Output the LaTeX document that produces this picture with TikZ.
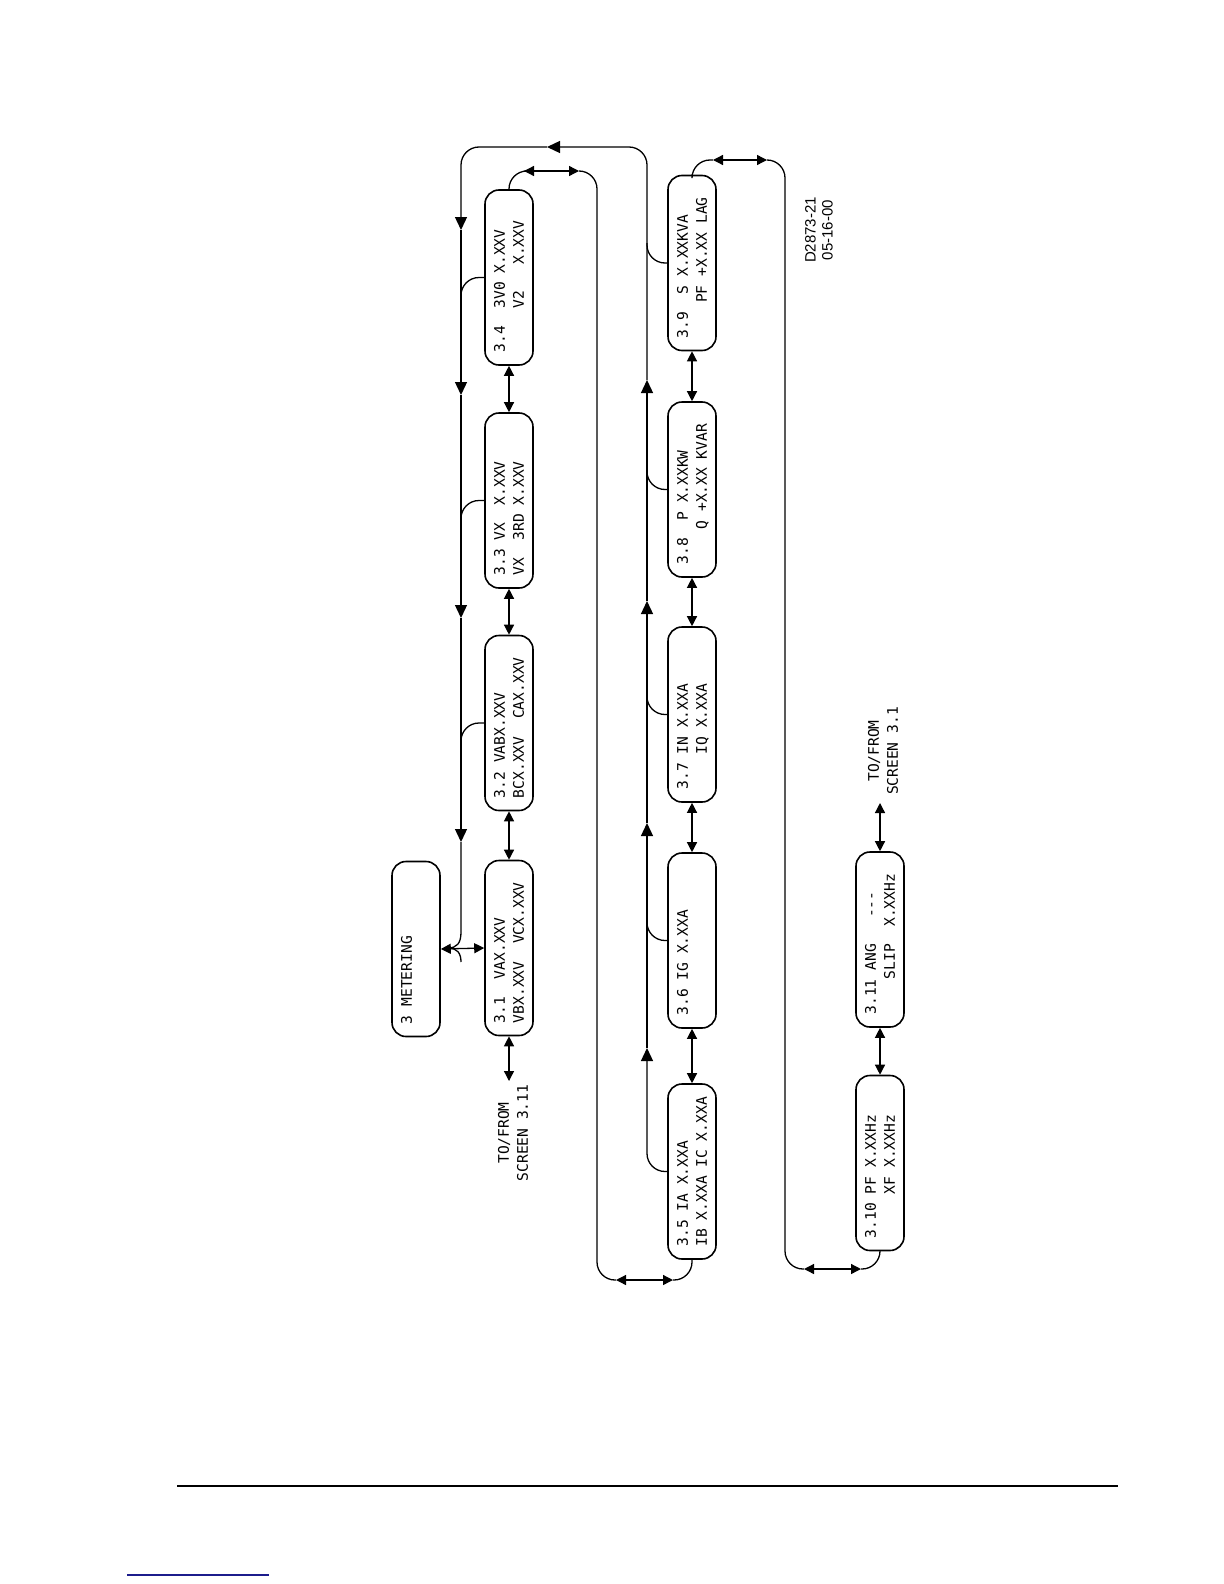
\documentclass[tikz,border=0pt]{standalone}
\usepackage{fontspec}
\newfontfamily\lcdfont{DejaVu Sans Mono}
\newfontfamily\dwgfont{Liberation Sans}
\usetikzlibrary{arrows.meta}
\definecolor{linkblue}{RGB}{28,28,140}
\newcommand\lcdstrut{\rule[-1.5pt]{0pt}{8.3pt}}
\newcommand\scrtext[2]{\lcdstrut#1\\\lcdstrut#2}
% one character cell for each ~
\newcommand\lcdsetup{\lcdfont\fontsize{7.3}{9.5}\selectfont\def~{\hphantom{0}}}

\begin{document}
\begin{tikzpicture}[x=0.5pt,y=-0.5pt,line width=0.65pt,
  lcd/.style={font=\lcdsetup},
  scr/.style={lcd,draw,line width=0.8pt,rounded corners=7pt,rotate=90,minimum width=87.5pt,minimum height=24pt,text width=75pt,inner xsep=6.25pt,inner ysep=0pt,align=left},
  note/.style={lcd,rotate=90,align=center,inner sep=0pt},
  dbl/.style={<->,>={Triangle[length=5pt,width=5pt]}},
  flow/.style={->,>={Triangle[length=6.5pt,width=6pt]},rounded corners=9pt},
  curl/.style={rounded corners=9pt}]
\useasboundingbox (0,0) rectangle (1224,1584);

% screens
\node[scr] (meter) at (416,949) {\scrtext{3~METERING}{}};
\node[scr] (s31) at (509,948) {\scrtext{3.1~~VAX.XXV}{VBX.XXV~~VCX.XXV}};
\node[scr] (s32) at (509,723) {\scrtext{3.2~VABX.XXV}{BCX.XXV~~CAX.XXV}};
\node[scr] (s33) at (509,500.5) {\scrtext{3.3~VX~~X.XXV}{VX~~3RD~X.XXV}};
\node[scr] (s34) at (509,277.5) {\scrtext{3.4~~3V0~X.XXV}{~~~~~V2~~~X.XXV}};
\node[scr] (s35) at (692,1171.5) {\scrtext{3.5~IA~X.XXA}{IB~X.XXA~IC~X.XXA}};
\node[scr] (s36) at (692,940.5) {\scrtext{3.6~IG~X.XXA}{}};
\node[scr] (s37) at (692,714.5) {\scrtext{3.7~IN~X.XXA}{~~~~IQ~X.XXA}};
\node[scr] (s38) at (692,489.5) {\scrtext{3.8~~P~X.XXKW}{~~~~Q~+X.XX~KVAR}};
\node[scr] (s39) at (692,263) {\scrtext{3.9~~S~X.XXKVA}{~~~~PF~+X.XX~LAG}};
\node[scr] (s310) at (880,1163) {\scrtext{3.10~PF~X.XXHz}{~~~~~XF~X.XXHz}};
\node[scr] (s311) at (880,939.5) {\scrtext{3.11~ANG~~~-\kern0pt-\kern0pt-}{~~~~SLIP~~X.XXHz}};

% notes
\coordinate (to311) at (509,1081);
\coordinate (to31) at (880,803);
\node[note] (tf311) at (513,1133) {TO/FROM\\SCREEN~3.11};
\node[note] (tf31) at (883,751) {TO/FROM\\SCREEN~3.1};
\node[note,font=\dwgfont\fontsize{7.5}{8.5}\selectfont] (dwg) at (819,230) {D2873-21\\05-16-00};

% screen to screen
\draw[dbl] (meter.south) -- (s31.north);
\draw[dbl] (s34.west) -- (s33.east);
\draw[dbl] (s33.west) -- (s32.east);
\draw[dbl] (s32.west) -- (s31.east);
\draw[dbl] (s31.west) -- (to311);
\draw[dbl] (s39.west) -- (s38.east);
\draw[dbl] (s38.west) -- (s37.east);
\draw[dbl] (s37.west) -- (s36.east);
\draw[dbl] (s36.west) -- (s35.east);
\draw[dbl] (s311.west) -- (s310.east);
\draw[dbl] (s311.east) -- (to31);

% outer loop
\draw[flow] (s35.north) -| (647,1048);
\foreach \a/\b in {1048/823,823/601,601/380}
  \draw[flow] (647,\a) -- (647,\b);
\draw[flow] (647,380) |- (547,147);
\draw[flow] (547,147) -| (461,230);
\foreach \a/\b in {230/395,395/618,618/842}
  \draw[flow] (461,\a) -- (461,\b);
\draw (461,842) -- (461,932) .. controls (461,943) and (457,948) .. (448,948);
\draw (461,962) .. controls (461,953) and (457,948) .. (448,948);
\foreach \s/\y in {s34/300,s33/523,s32/745}
  \draw[curl] (\s.north) -| (461,\y);
\foreach \s/\y in {s36/920,s37/694,s38/469,s39/243}
  \draw[curl] (\s.north) -| (647,\y);

% wrap 3.4 <-> 3.5
\draw[curl] (s34.east) |- (524,171);
\draw[dbl] (524,171) -- (579,171);
\draw[curl] (579,171) -- (597,171) -- (597,1280) -- (616,1280);
\draw[dbl] (616,1280) -- (673,1280);
\draw[curl] (673,1280) -| (s35.west);

% wrap 3.9 <-> 3.10
\draw[curl] (s39.east) |- (713,160);
\draw[dbl] (713,160) -- (767,160);
\draw[curl] (767,160) -- (785,160) -- (785,1269) -- (804,1269);
\draw[dbl] (804,1269) -- (861,1269);
\draw[curl] (861,1269) -| (s310.west);

% page rules
\draw[line width=1pt] (177,1486) -- (1118,1486);
\draw[linkblue,line width=0.7pt] (127,1575) -- (269,1575);
\end{tikzpicture}
\end{document}
